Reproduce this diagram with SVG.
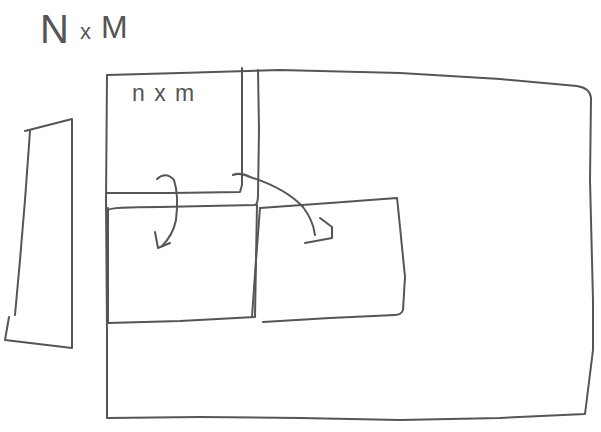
<svg xmlns="http://www.w3.org/2000/svg" width="601" height="432" viewBox="0 0 601 432">
<style>
.s{fill:none;stroke:#555;stroke-width:2;stroke-linecap:round;stroke-linejoin:round}
.t{font-family:"Liberation Sans",Arial,sans-serif;fill:#555}
</style>
<rect width="601" height="432" fill="#fff"/>
<g id="title"><text class="t" y="43" font-size="40"><tspan x="40">N</tspan><tspan x="80" y="39" font-size="22">x</tspan><tspan x="101" y="38" font-size="32">M</tspan></text></g>
<g id="outer-matrix">
<path class="s" d="M107,75 L180,73 L280,70 L400,73 L500,79 L577,86 Q590,88 591,98 L590,180 L593,300 L593,350 L585,414 L500,418 L400,420 L300,418 L200,417 L107,418 L107,330 L106,200 Z"/>
</g>
<g id="block-nxm">
<path class="s" d="M107,193 L170,193 L240,192 L242,185 L242,130 L242,68"/>
<text class="t" x="132" y="101" font-size="23" letter-spacing="1.5">n x m</text>
</g>
<g id="block-shifted">
<path class="s" d="M108,210 Q110,207 160,207 L255,205 Q258,204 258,195 L259,130 L258,70"/>
</g>
<g id="block-below">
<path class="s" d="M108,208 L108,270 L108,323 L180,321 L255,317 L256,260 L257,205"/>
</g>
<g id="block-right">
<path class="s" d="M260,208 L330,203 L397,198 L398,207 L405,277 L403,310 Q401,315 395,315 L330,318 L263,322"/>
<path class="s" d="M260,208 L256,260 L252,317"/>
</g>
<g id="vector">
<path class="s" d="M25,131 L72,119 L72,348 L5,340 L9,317"/>
<path class="s" d="M30,131 L25,200 L20,260 L15,315"/>
</g>
<g id="connectors">
<path class="s" d="M157,179 Q166,171 174,180 Q179,195 176,220 Q173,235 162,246"/>
<path class="s" d="M155,232 L158,248 L170,243"/>
<path class="s" d="M233,175 Q240,172 250,177 Q285,188 303,207 Q313,220 315,235"/>
<path class="s" d="M320,218 L332,227 L332,238 L305,243"/>
</g>
</svg>
